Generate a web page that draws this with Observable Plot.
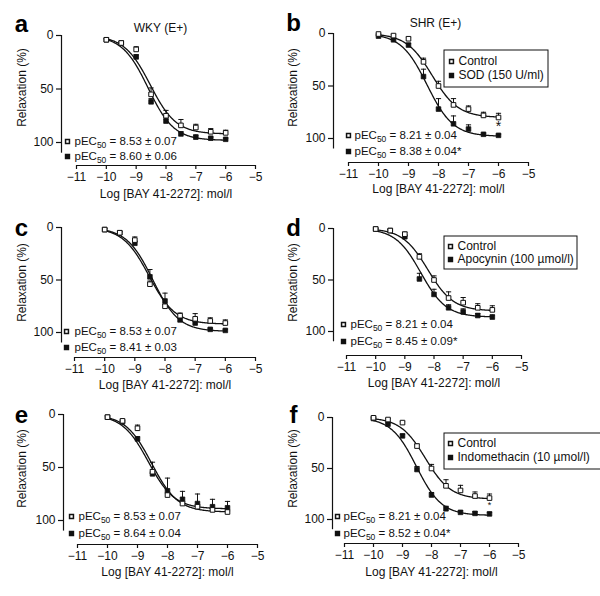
<!DOCTYPE html>
<html><head><meta charset="utf-8">
<script src="https://cdn.jsdelivr.net/npm/d3@7"></script>
<script src="https://cdn.jsdelivr.net/npm/@observablehq/plot@0.6"></script>
<style>
html,body{margin:0;padding:0;background:#fff;}
#fig{position:relative;width:600px;height:596px;overflow:hidden;font-family:"Liberation Sans",Arial,sans-serif;}
#fig svg{position:absolute;}
</style></head><body><div id="fig"></div>
<script>
// ---------- data ----------
const logConc = [-10, -9.5, -9, -8.5, -8, -7.5, -7, -6.5, -6];
const xTicks = [-11, -10, -9, -8, -7, -6, -5];
const yTicks = [0, 50, 100];
const panelLetters = ["a", "b", "c", "d", "e", "f"];
const panelTitles = ["WKY (E+)", "SHR (E+)", "", "", "", ""];
const controlLabel = "Control";
const treatmentLabels = ["", "SOD (150 U/ml)", "", "Apocynin (100 µmol/l)", "", "Indomethacin (10 µmol/l)"];
const xLabel = "Log [BAY 41-2272]: mol/l";
const yLabel = "Relaxation (%)";

// relaxation (%) means and SEM, control (open) and treated (filled)
const aControl = [4, 7, 13, 55, 75, 84, 86, 90, 91];
const aControlSem = [1, 1, 2.5, 6, 5, 5.5, 3, 3, 2.5];
const aTreated = [4, 7, 20, 62, 80, 92, 95, 96, 97];
const aTreatedSem = [1, 1, 2, 3, 2, 2, 2, 1, 1];

const bControl = [0.5, 2, 5, 27, 50, 68, 72, 78, 80];
const bControlSem = [0.5, 1, 1.5, 3.5, 4.5, 6, 3, 3, 4];
const bTreated = [2.5, 6, 11, 41, 72, 86, 91, 96, 97];
const bTreatedSem = [1, 1, 1.5, 7, 10, 7.5, 4, 1, 1];

const cControl = [2, 5, 12, 54, 75, 84, 87, 89, 91];
const cControlSem = [1, 1, 3, 3, 2, 2.5, 5, 3, 3];
const cTreated = [2, 5, 15, 47, 70, 88, 91, 97, 98];
const cTreatedSem = [1, 1, 2, 7, 7.5, 2, 2, 1, 1];

const dControl = [0.5, 2, 5.5, 27.5, 50, 67.5, 72, 77, 79];
const dControlSem = [0.5, 1, 2, 3, 4, 6, 5, 4, 4];
const dTreated = [0.5, 2, 8, 49, 64, 77, 81, 84.5, 86];
const dTreatedSem = [0.5, 1, 1, 5.5, 5, 3, 3, 2, 2];

const eControl = [2.5, 6, 13, 54, 76, 84, 87, 90, 92];
const eControlSem = [1, 1, 3, 2, 2, 2, 2, 1, 1];
const eTreated = [2.5, 7, 23, 56, 72, 80, 84, 87, 88];
const eTreatedSem = [1, 1, 2, 11, 12, 7.5, 9, 7, 6];

const fControl = [0.3, 2, 5, 28, 50, 67, 71.5, 77, 79];
const fControlSem = [0.5, 1, 1, 2, 4, 6, 5, 4, 4];
const fTreated = [1, 6.5, 18, 51, 76, 89.5, 93, 94, 94.5];
const fTreatedSem = [0.5, 1, 1.5, 3, 2.5, 2.5, 1.5, 1.5, 1.5];

// fit summary values shown in each panel
const pec50Control = [8.53, 8.21, 8.53, 8.21, 8.53, 8.21];
const pec50ControlSem = [0.07, 0.04, 0.07, 0.04, 0.07, 0.04];
const pec50Treated = [8.60, 8.38, 8.41, 8.45, 8.64, 8.52];
const pec50TreatedSem = [0.06, 0.04, 0.03, 0.09, 0.04, 0.04];
const pec50TreatedSig = [false, true, false, true, false, true];
const fitMaxControl = [92, 80, 92, 80, 92, 80];
const fitMaxTreated = [98, 98, 99, 86, 89, 96];
const maxSigMarker = [false, true, false, false, false, true];

const controls = [aControl, bControl, cControl, dControl, eControl, fControl];
const controlSems = [aControlSem, bControlSem, cControlSem, dControlSem, eControlSem, fControlSem];
const treateds = [aTreated, bTreated, cTreated, dTreated, eTreated, fTreated];
const treatedSems = [aTreatedSem, bTreatedSem, cTreatedSem, dTreatedSem, eTreatedSem, fTreatedSem];

// ---------- layout (pixels inside each panel svg) ----------
const layout = [
  {left: 0, top: 0, W: 300, xL: 76, xR: 255, y0: 35, y100: 142, xAxis: 165, yAxisX: 61,
   letter: [21, 24], ylab: [22, 87], title: [160, 28], xlabY: 194, pec1: [67, 141], pec2: [67, 156], pecTx: 74, astSize: 0},
  {left: 280, top: 0, W: 320, xL: 68, xR: 248, y0: 33, y100: 138, xAxis: 162, yAxisX: 53,
   letter: [13, 23], ylab: [13, 87], title: [155, 23], xlabY: 189, pec1: [68, 135], pec2: [68, 151], pecTx: 74,
   box: [164, 50, 268, 87], leg1: [171, 61], leg2: [171, 75], astSize: 14},
  {left: 0, top: 195, W: 300, xL: 74, xR: 255, y0: 32, y100: 137, xAxis: 162, yAxisX: 61,
   letter: [21, 33], ylab: [22, 87], xlabY: 190, pec1: [66, 136], pec2: [66, 152], pecTx: 74, astSize: 0},
  {left: 280, top: 195, W: 320, xL: 66, xR: 241, y0: 33, y100: 136, xAxis: 160, yAxisX: 53,
   letter: [13, 33], ylab: [13, 87], xlabY: 188, pec1: [63, 129], pec2: [63, 146], pecTx: 70,
   box: [164, 41, 297, 74], leg1: [170, 51], leg2: [170, 64], astSize: 0},
  {left: 0, top: 390, W: 300, xL: 77, xR: 257, y0: 24, y100: 130, xAxis: 154, yAxisX: 63,
   letter: [21, 25], ylab: [22, 78], xlabY: 182, pec1: [71, 126], pec2: [71, 143], pecTx: 78, astSize: 0},
  {left: 280, top: 390, W: 320, xL: 64, xR: 238, y0: 27, y100: 129, xAxis: 153, yAxisX: 52,
   letter: [13, 25], ylab: [13, 78], xlabY: 182, pec1: [57, 126], pec2: [57, 143], pecTx: 63,
   box: [164, 43, 330, 79], leg1: [170, 53], leg2: [170, 67], astSize: 9}
];

const FONT = "Liberation Sans, Arial, Helvetica, sans-serif";
const INK = "#111";
const capSymbol = {draw(ctx, size) { const r = Math.sqrt(size / Math.PI); ctx.moveTo(-r, 0); ctx.lineTo(r, 0); }};
const minusFmt = d => d < 0 ? `\u2212${Math.abs(d)}` : `${d}`;

function hill(top, p) {
  // fitted concentration-response curve (bottom 0, slope 1) using the panel's pEC50
  return d3.range(-10, -5.999, 0.02).map(x => ({x, y: top / (1 + Math.pow(10, -p - x))}));
}

function panel(i) {
  const L = layout[i];
  const H = 206;
  const ix = px => -11 + (px - L.xL) / (L.xR - L.xL) * 6;
  const iy = py => (py - L.y0) / (L.y100 - L.y0) * 100;
  const yMax = iy(L.xAxis);
  const ctrl = logConc.map((x, j) => ({x, y: controls[i][j], e: controlSems[i][j]}));
  const trt = logConc.map((x, j) => ({x, y: treateds[i][j], e: treatedSems[i][j]}));
  const txt = (str, px, py, o = {}) => Plot.text([str], {x: ix(px), y: iy(py), text: d => d, fill: INK, fontSize: 11.5, lineAnchor: "middle", ...o});
  const pecStr = (p, s, sig) => `pEC50 = ${p.toFixed(2)} ± ${s.toFixed(2)}${sig ? "*" : ""}`;

  const marks = [
    // axes
    Plot.ruleY([yMax], {x1: -11, x2: -5, stroke: INK, strokeWidth: 1.2}),
    Plot.axisX({ticks: xTicks, tickFormat: minusFmt, tickSize: 4, tickPadding: 3, fontSize: 12, stroke: INK, fill: INK, strokeWidth: 1.2, label: null}),
    Plot.ruleX([ix(L.yAxisX)], {y1: 0, y2: 110, stroke: INK, strokeWidth: 1.2}),
    Plot.axisY({ticks: yTicks, tickSize: 5, tickPadding: 3, fontSize: 12, dx: L.yAxisX - L.xL, stroke: INK, fill: INK, strokeWidth: 1.2, label: null}),
    // error bars (one-sided)
    Plot.ruleX(ctrl, {x: "x", y1: "y", y2: d => d.y - d.e, stroke: INK, strokeWidth: 1}),
    Plot.dot(ctrl, {x: "x", y: d => d.y - d.e, symbol: capSymbol, r: 2.6, stroke: INK, fill: "none", strokeWidth: 1}),
    Plot.ruleX(trt, {x: "x", y1: "y", y2: d => d.y - d.e, stroke: INK, strokeWidth: 1}),
    Plot.dot(trt, {x: "x", y: d => d.y - d.e, symbol: capSymbol, r: 2.6, stroke: INK, fill: "none", strokeWidth: 1}),
    // fitted curves
    Plot.line(hill(fitMaxControl[i], pec50Control[i]), {x: "x", y: "y", stroke: INK, strokeWidth: 1.3}),
    Plot.line(hill(fitMaxTreated[i], pec50Treated[i]), {x: "x", y: "y", stroke: INK, strokeWidth: 1.3}),
    // points
    Plot.dot(trt, {x: "x", y: "y", symbol: "square", r: 2.6, fill: INK, stroke: INK, strokeWidth: 0.8}),
    Plot.dot(ctrl, {x: "x", y: "y", symbol: "square", r: 2.6, fill: "white", stroke: INK, strokeWidth: 1}),
    // labels
    txt(panelLetters[i], L.letter[0], L.letter[1], {fontSize: 24, fontWeight: "bold", textAnchor: "middle", fill: "#000"}),
    txt(yLabel, L.ylab[0], L.ylab[1], {rotate: -90, textAnchor: "middle", fontSize: 12}),
    txt(xLabel, (L.xL + L.xR) / 2, L.xlabY, {textAnchor: "middle", fontSize: 12}),
    // pEC50 annotations
    Plot.dot([0], {x: ix(L.pec1[0]), y: iy(L.pec1[1]), symbol: "square", r: 2.2, fill: "white", stroke: INK}),
    Plot.dot([0], {x: ix(L.pec2[0]), y: iy(L.pec2[1]), symbol: "square", r: 2.2, fill: INK, stroke: INK}),
    Plot.text([pecStr(pec50Control[i], pec50ControlSem[i], false), pecStr(pec50Treated[i], pec50TreatedSem[i], pec50TreatedSig[i])],
      {x: ix(L.pecTx), y: (d, k) => iy(k === 0 ? L.pec1[1] : L.pec2[1]), text: d => d, textAnchor: "start", lineAnchor: "middle",
       fontSize: 11.5, fill: INK})
  ];
  if (panelTitles[i]) marks.push(txt(panelTitles[i], L.title[0], L.title[1], {textAnchor: "middle", fontSize: 12}));
  if (L.box) {
    const [bx1, by1, bx2, by2] = L.box;
    marks.push(
      Plot.rect([0], {x1: ix(bx1), x2: ix(bx2), y1: iy(by1), y2: iy(by2), fill: "white", stroke: INK, strokeWidth: 1}),
      Plot.dot([0], {x: ix(L.leg1[0]), y: iy(L.leg1[1]), symbol: "square", r: 2.2, fill: "white", stroke: INK}),
      Plot.dot([0], {x: ix(L.leg2[0]), y: iy(L.leg2[1]), symbol: "square", r: 2.2, fill: INK, stroke: INK}),
      txt(controlLabel, L.leg1[0] + 7, L.leg1[1], {textAnchor: "start", fontSize: 12}),
      txt(treatmentLabels[i], L.leg2[0] + 7, L.leg2[1], {textAnchor: "start", fontSize: 12})
    );
  }
  if (maxSigMarker[i]) {
    const last = ctrl[ctrl.length - 1];
    marks.push(Plot.text(["*"], {x: last.x, y: last.y + (L.astSize > 10 ? 9 : 7), text: d => d, fontSize: L.astSize, fill: INK, textAnchor: "middle", lineAnchor: "middle"}));
  }

  const svg = Plot.plot({
    width: L.W, height: H,
    marginLeft: L.xL, marginRight: L.W - L.xR, marginTop: L.y0, marginBottom: H - L.xAxis,
    x: {domain: [-11, -5], axis: null},
    y: {domain: [0, yMax], reverse: true, axis: null},
    style: {background: "transparent", fontFamily: FONT, fontSize: "12px", color: INK, overflow: "visible"},
    marks
  });
  // subscript "50" in pEC50
  const ns = "http://www.w3.org/2000/svg";
  svg.querySelectorAll("text").forEach(t => {
    const s = t.textContent;
    if (!s.startsWith("pEC50")) return;
    const rest = s.slice(5);
    t.textContent = "pEC";
    const sub = document.createElementNS(ns, "tspan");
    sub.setAttribute("font-size", "8.5"); sub.setAttribute("dy", "3"); sub.textContent = "50";
    const r = document.createElementNS(ns, "tspan");
    r.setAttribute("dy", "-3"); r.textContent = rest;
    t.append(sub, r);
  });
  svg.style.left = L.left + "px";
  svg.style.top = L.top + "px";
  return svg;
}

const fig = document.getElementById("fig");
for (let i = 0; i < 6; i++) fig.appendChild(panel(i));
</script>
</body></html>
